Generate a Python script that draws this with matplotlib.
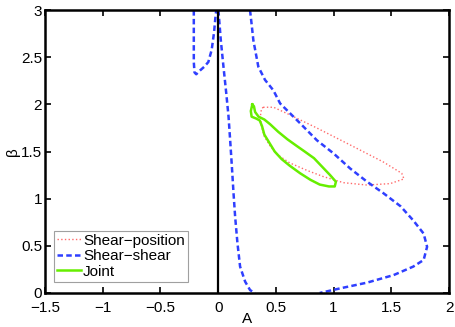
import matplotlib
matplotlib.use("Agg")
import matplotlib.pyplot as plt

plt.rcParams['font.family'] = ['Liberation Sans', 'DejaVu Sans']
plt.rcParams['font.size'] = 11

# shear-position contour (closed)
sp_A = [0.39, 0.48, 0.62, 0.855, 1.144, 1.43, 1.59, 1.61, 1.49, 1.29, 1.085,
        0.91, 0.77, 0.62, 0.51, 0.45, 0.40, 0.375, 0.365, 0.375, 0.39]
sp_B = [1.97, 1.97, 1.89, 1.75, 1.57, 1.39, 1.27, 1.21, 1.16, 1.145, 1.17,
        1.235, 1.30, 1.38, 1.47, 1.56, 1.66, 1.77, 1.87, 1.95, 1.97]

# shear-shear contour, three branches
ss_left_A = [-0.211, -0.211, -0.211, -0.205, -0.19, -0.157, -0.12, -0.085, -0.056, -0.036, -0.021, -0.015]
ss_left_B = [3.0, 2.7, 2.45, 2.34, 2.32, 2.36, 2.40, 2.45, 2.58, 2.76, 2.96, 3.0]
ss_mid_A = [0.002, 0.012, 0.023, 0.046, 0.07, 0.09, 0.104, 0.119, 0.133, 0.147,
            0.167, 0.19, 0.234, 0.277, 0.32]
ss_mid_B = [3.0, 2.85, 2.68, 2.40, 2.12, 1.87, 1.62, 1.34, 1.06, 0.81,
            0.53, 0.28, 0.12, 0.03, 0.0]
ss_right_A = [0.276, 0.29, 0.305, 0.348, 0.406, 0.478, 0.537, 0.71, 0.855, 1.0,
              1.144, 1.29, 1.43, 1.58, 1.69, 1.78, 1.81, 1.78, 1.69, 1.52,
              1.29, 1.06, 0.88]
ss_right_B = [3.0, 2.85, 2.68, 2.40, 2.26, 2.15, 2.01, 1.80, 1.62, 1.48,
              1.32, 1.18, 1.06, 0.92, 0.77, 0.63, 0.49, 0.35, 0.28, 0.19,
              0.11, 0.05, 0.0]

# joint contour (closed)
j_A = [0.296, 0.283, 0.29, 0.33, 0.36, 0.38, 0.40, 0.44, 0.49, 0.55, 0.62, 0.71,
       0.80, 0.88, 0.96, 1.01, 1.02, 0.97, 0.90, 0.83, 0.75, 0.68, 0.60, 0.52,
       0.45, 0.40, 0.35, 0.32, 0.31, 0.296]
j_B = [2.0, 1.93, 1.87, 1.85, 1.83, 1.77, 1.68, 1.60, 1.50, 1.42, 1.35, 1.27,
       1.20, 1.15, 1.13, 1.13, 1.18, 1.25, 1.34, 1.43, 1.50, 1.56, 1.63, 1.71,
       1.79, 1.84, 1.87, 1.92, 1.98, 2.0]

blue = '#2f3fff'
dash = (0, (2.2, 1.3))

fig = plt.figure(figsize=(4.56, 3.27), dpi=100)
ax = fig.add_axes([0.0987, 0.104, 0.886, 0.865])

ax.plot(sp_A, sp_B, ':', color='#ff6a6a', lw=1.0, label='Shear\u2212position')
ax.plot(ss_left_A, ss_left_B, color=blue, ls=dash, lw=1.8, label='Shear\u2212shear')
ax.plot(ss_mid_A, ss_mid_B, color=blue, ls=dash, lw=1.8)
ax.plot(ss_right_A, ss_right_B, color=blue, ls=dash, lw=1.8)
ax.plot(j_A, j_B, '-', color='#66ee00', lw=1.8, label='Joint')
ax.plot([0, 0], [0, 3], 'k-', lw=1.6)

ax.set_xlim(-1.5, 2)
ax.set_ylim(0, 3)
ax.set_xticks([-1.5, -1, -0.5, 0, 0.5, 1, 1.5, 2])
ax.set_yticks([0, 0.5, 1, 1.5, 2, 2.5, 3])
ax.set_xticklabels(['\u22121.5', '\u22121', '\u22120.5', '0', '0.5', '1', '1.5', '2'])
ax.set_yticklabels(['0', '0.5', '1', '1.5', '2', '2.5', '3'])
ax.tick_params(direction='in', top=True, right=True, length=4, width=1.2)
ax.tick_params(axis='x', pad=5.5)
ax.tick_params(axis='y', pad=2)
for s in ax.spines.values():
    s.set_linewidth(1.8)
ax.set_xlabel('A', labelpad=-2)
ax.set_ylabel('\u03b2', labelpad=1)

leg = ax.legend(loc='lower left', bbox_to_anchor=(0.022, 0.04), frameon=True,
                fancybox=False, handlelength=1.6, handletextpad=0.1,
                borderpad=0.2, labelspacing=0.1, borderaxespad=0)
leg.get_frame().set_edgecolor('#888888')
leg.get_frame().set_linewidth(0.8)

fig.savefig('out.png', dpi=100)
